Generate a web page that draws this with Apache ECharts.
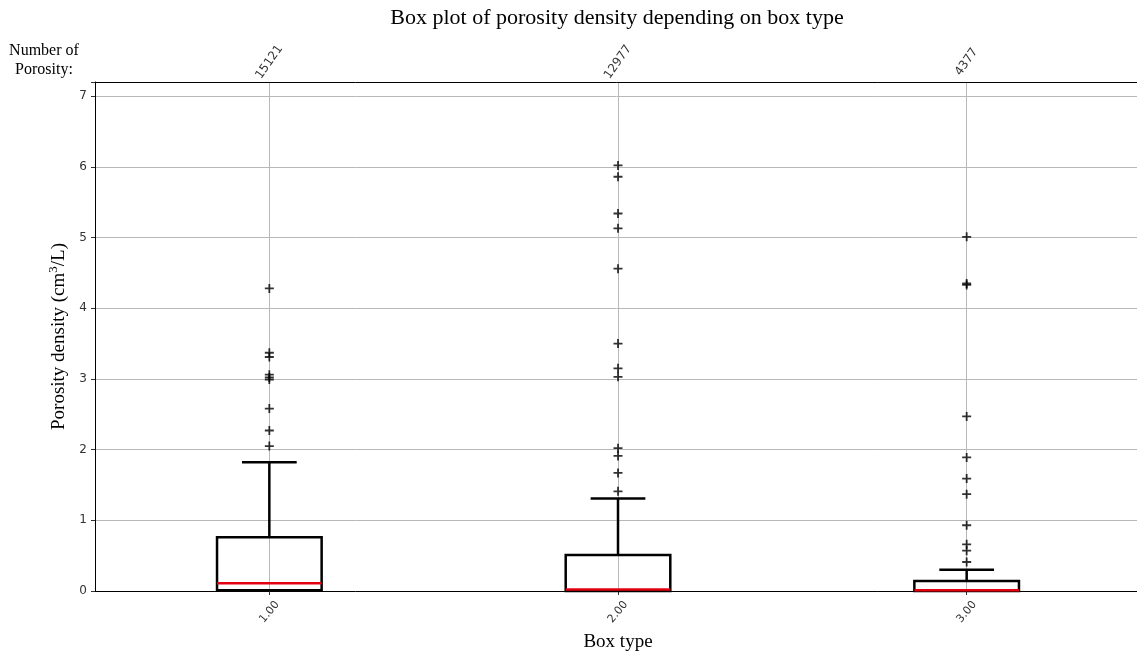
<!DOCTYPE html>
<html>
<head>
<meta charset="utf-8">
<script src="https://cdn.jsdelivr.net/npm/echarts@6/dist/echarts.min.js"></script>
<style>html,body{margin:0;padding:0;background:#fff}#c{width:1137px;height:655px}</style>
</head>
<body>
<div id="c"></div>
<script>
// ---- data ----
const positions = [1, 2, 3];
const tickLabels = ['1.00', '2.00', '3.00'];
const counts = ['15121', '12977', '4377'];
const whiskerLow = [0, 0, 0];
const q1 = [0.01, 0.0, 0.0];
const median = [0.11, 0.02, 0.01];
const q3 = [0.76, 0.51, 0.14];
const whiskerHigh = [1.82, 1.31, 0.30];
const outliers1 = [4.28, 3.37, 3.31, 3.06, 3.02, 2.99, 2.58, 2.27, 2.05];
const outliers2 = [6.02, 5.86, 5.34, 5.13, 4.56, 3.50, 3.15, 3.03, 2.02, 1.91, 1.67, 1.41];
const outliers3 = [5.01, 4.35, 4.33, 2.47, 1.89, 1.59, 1.37, 0.93, 0.66, 0.57, 0.41];

const boxData = positions.map((p, i) => [p, whiskerLow[i], q1[i], median[i], q3[i], whiskerHigh[i]]);
const outlierData = [];
[outliers1, outliers2, outliers3].forEach((arr, i) => arr.forEach(v => outlierData.push([positions[i], v])));

const serif = '"Liberation Serif", "Times New Roman", serif';
const sans = '"DejaVu Sans", sans-serif';

const chart = echarts.init(document.getElementById('c'));
chart.setOption({
  animation: false,
  backgroundColor: '#fff',
  grid: { left: 95, top: 82, width: 1046, height: 509, containLabel: false, outerBoundsMode: 'none' },
  graphic: [
    { type: 'text', x: 617, y: 7, style: { text: 'Box plot of porosity density depending on box type', font: '22px ' + serif, fill: '#000', align: 'center' } },
    { type: 'text', x: 44, y: 41, style: { text: 'Number of\nPorosity:', font: '16px ' + serif, fill: '#000', lineHeight: 19, align: 'center' } }
  ],
  xAxis: [
    {
      type: 'value', min: 0.5, max: 3.5, position: 'bottom',
      name: 'Box type', nameLocation: 'middle', nameGap: 42,
      nameTextStyle: { fontFamily: serif, fontSize: 19, color: '#000' },
      axisLine: { show: true, lineStyle: { color: '#000', width: 1 } },
      axisTick: { show: true, length: 4, lineStyle: { color: '#333' }, customValues: positions },
      axisLabel: { customValues: positions, rotate: 50, fontFamily: sans, fontSize: 11, color: '#333', margin: 21,
        align: 'center', verticalAlign: 'middle',
        formatter: v => tickLabels[positions.indexOf(Math.round(v))] || '' },
      splitLine: { show: true, lineStyle: { color: '#b8b8b8', width: 1 } }
    },
    {
      type: 'value', min: 0.5, max: 3.5, position: 'top',
      axisLine: { show: true, lineStyle: { color: '#000', width: 1 } },
      axisTick: { show: false, customValues: positions },
      axisLabel: { customValues: positions, rotate: -55, fontFamily: sans, fontSize: 12, color: '#333', margin: 20,
        align: 'center', verticalAlign: 'middle',
        formatter: v => counts[positions.indexOf(Math.round(v))] || '' },
      splitLine: { show: false }
    }
  ],
  yAxis: {
    type: 'value', min: 0, max: 7.2, interval: 1,
    name: '{a|Porosity density (cm}{s|3}{a|/L)}', nameLocation: 'middle', nameGap: 24,
    nameTextStyle: { rich: {
      a: { fontFamily: serif, fontSize: 19, color: '#000' },
      s: { fontFamily: serif, fontSize: 13, color: '#000', verticalAlign: 'top', padding: [0, 0, 10, 0] }
    } },
    axisLine: { show: true, lineStyle: { color: '#000', width: 1 } },
    axisTick: { show: true, length: 4, lineStyle: { color: '#333' } },
    axisLabel: { fontFamily: sans, fontSize: 12, color: '#333', margin: 8,
      formatter: v => (Math.abs(v - Math.round(v)) < 1e-6 ? String(Math.round(v)) : '') },
    splitLine: { show: true, lineStyle: { color: '#b8b8b8', width: 1 } }
  },
  series: [
    {
      type: 'custom', xAxisIndex: 0, yAxisIndex: 0, data: boxData, z: 5,
      encode: { x: 0, y: [1, 2, 3, 4, 5] },
      renderItem: function (params, api) {
        const x = api.value(0);
        const w = api.size([0.3, 0])[0];
        const cw = api.size([0.157, 0])[0];
        const pLow = api.coord([x, api.value(1)]);
        const pQ1 = api.coord([x, api.value(2)]);
        const pMed = api.coord([x, api.value(3)]);
        const pQ3 = api.coord([x, api.value(4)]);
        const pHigh = api.coord([x, api.value(5)]);
        const cx = pQ1[0];
        const st = { stroke: '#000', lineWidth: 2.5, fill: null };
        return {
          type: 'group',
          children: [
            { type: 'line', shape: { x1: cx, y1: pQ3[1], x2: cx, y2: pHigh[1] }, style: st },
            { type: 'line', shape: { x1: cx - cw / 2, y1: pHigh[1], x2: cx + cw / 2, y2: pHigh[1] }, style: st },
            { type: 'line', shape: { x1: cx, y1: pQ1[1], x2: cx, y2: pLow[1] }, style: st },
            { type: 'rect', shape: { x: cx - w / 2, y: pQ3[1], width: w, height: pQ1[1] - pQ3[1] }, style: { stroke: '#000', lineWidth: 2.5, fill: 'none' } },
            { type: 'line', shape: { x1: cx - w / 2, y1: pMed[1], x2: cx + w / 2, y2: pMed[1] }, style: { stroke: '#e3000f', lineWidth: 2.5 } }
          ]
        };
      }
    },
    {
      type: 'scatter', xAxisIndex: 0, yAxisIndex: 0, data: outlierData, z: 6,
      symbol: 'path://M4,0H6V4H10V6H6V10H4V6H0V4H4Z', symbolSize: 9,
      itemStyle: { color: '#000' }
    }
  ]
});
</script>
</body>
</html>
